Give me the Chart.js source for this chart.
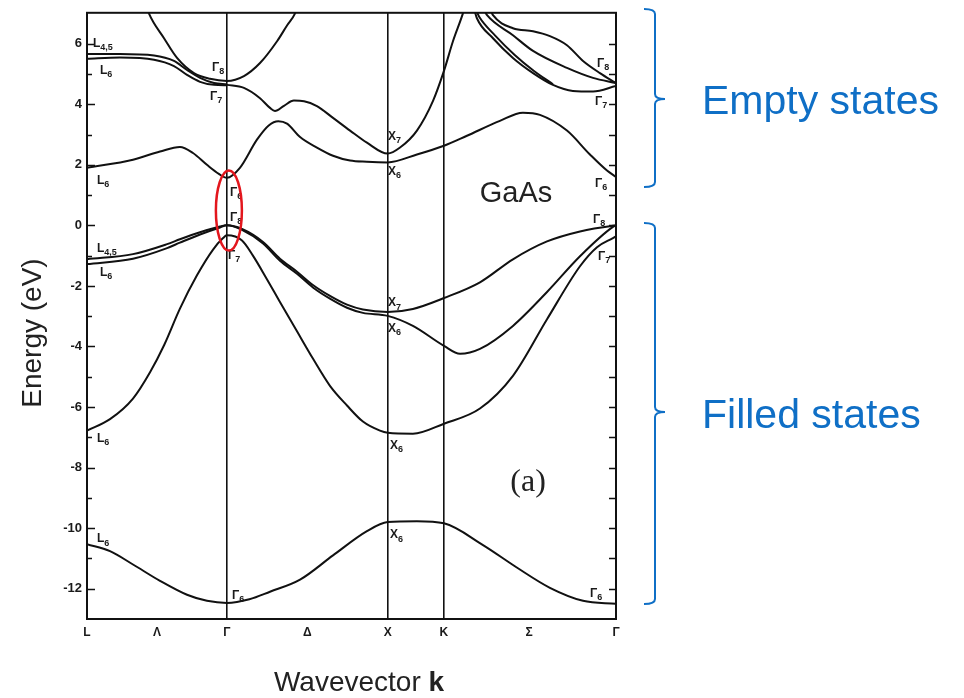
<!DOCTYPE html>
<html>
<head>
<meta charset="utf-8">
<script src="https://cdn.jsdelivr.net/npm/chart.js@4.4.1/dist/chart.umd.min.js"></script>
<style>
  html, body { margin: 0; padding: 0; background: #fff; }
</style>
</head>
<body>
<canvas id="bandChart" width="964" height="698"></canvas>
<script>
/* GaAs band structure along L - Γ - X - K - Γ */

const COLORS = {
  ink: '#111111',
  label: '#1a1a1a',
  blue: '#0f6fc6',
  red: '#e3161d',
};

// path positions (k) and names of the symmetry points / lines
const symK = [0, 0.435, 0.87, 1.37, 1.87, 2.22, 2.75, 3.29];
const symLabels = ['L', 'Λ', 'Γ', 'Δ', 'X', 'K', 'Σ', 'Γ'];
const boundaryIdx = [2, 4, 5];            // Γ, X, K get a full-height line
const energyTicks = [-12, -11, -10, -9, -8, -7, -6, -5, -4, -3, -2, -1, 0, 1, 2, 3, 4, 5, 6];

// bands, [k, energy in eV]
const bandS = [[0, -10.53], [0.143, -10.76], [0.286, -11.2], [0.454, -11.74], [0.622, -12.2], [0.746, -12.4],
  [0.87, -12.47], [1.01, -12.35], [1.138, -12.1], [1.325, -11.7], [1.53, -10.9], [1.741, -10.1], [1.87, -9.8],
  [2.052, -9.77], [2.22, -9.84], [2.463, -10.56], [2.673, -11.3], [2.879, -11.97], [3.085, -12.4], [3.29, -12.5]];

const bandSplitOff = [[0, -6.78], [0.143, -6.4], [0.286, -5.72], [0.392, -4.85], [0.48, -3.95], [0.578, -2.75],
  [0.684, -1.65], [0.784, -0.8], [0.846, -0.42], [0.87, -0.33], [0.964, -0.5], [1.032, -1.0],
  [1.119, -1.78], [1.2, -2.53], [1.306, -3.5], [1.405, -4.4], [1.511, -5.3], [1.617, -5.95], [1.716, -6.48],
  [1.822, -6.78], [1.87, -6.85], [2.027, -6.88], [2.22, -6.55], [2.444, -6.05], [2.649, -4.97], [2.861, -3.1],
  [3.066, -1.35], [3.172, -0.72], [3.271, -0.42], [3.29, -0.36]];

const valenceA = [[0, -1.12], [0.286, -0.95], [0.498, -0.62], [0.578, -0.46], [0.703, -0.23], [0.827, -0.04],
  [0.87, 0], [0.964, -0.12], [1.095, -0.55], [1.2, -1.1], [1.306, -1.53], [1.405, -1.97], [1.511, -2.33],
  [1.617, -2.62], [1.716, -2.78], [1.87, -2.86], [2.027, -2.76], [2.22, -2.4], [2.444, -1.88], [2.649, -1.12],
  [2.861, -0.53], [3.066, -0.2], [3.271, -0.01], [3.29, 0]];

const valenceB = [[0, -1.28], [0.286, -1.1], [0.498, -0.75], [0.578, -0.57], [0.703, -0.3], [0.827, -0.07],
  [0.87, 0], [0.964, -0.15], [1.095, -0.6], [1.2, -1.17], [1.306, -1.6], [1.405, -2.05], [1.511, -2.42],
  [1.617, -2.72], [1.716, -2.89], [1.87, -2.99], [2.027, -3.32], [2.22, -3.98], [2.32, -4.24], [2.444, -4.08],
  [2.649, -3.32], [2.861, -2.2], [3.066, -1.02], [3.271, -0.05], [3.29, 0]];

const condLow = [[0, 1.9], [0.286, 2.17], [0.454, 2.44], [0.578, 2.59], [0.659, 2.39], [0.746, 2.0], [0.82, 1.7],
  [0.87, 1.57], [0.951, 1.9], [1.057, 2.83], [1.13, 3.3], [1.19, 3.44], [1.244, 3.36], [1.325, 2.92], [1.43, 2.57],
  [1.53, 2.3], [1.636, 2.14], [1.741, 2.1], [1.87, 2.08], [2.052, 2.34], [2.22, 2.63], [2.363, 2.96], [2.568, 3.45],
  [2.711, 3.72], [2.817, 3.65], [2.985, 3.13], [3.128, 2.34], [3.234, 1.81], [3.29, 1.6]];

const condDip = [[0.87, 4.64], [0.976, 4.54], [1.076, 4.2], [1.138, 3.88], [1.169, 3.78], [1.225, 3.95],
  [1.287, 4.12], [1.35, 4.1], [1.43, 3.94], [1.53, 3.55], [1.636, 3.13], [1.741, 2.73], [1.87, 2.37], [1.947, 2.57],
  [2.052, 3.13], [2.152, 4.11], [2.22, 5.1], [2.276, 6.08], [2.338, 7.0], [2.36, 7.4]];

const condCup = [[0.36, 7.4], [0.385, 7.0], [0.479, 6.18], [0.56, 5.53], [0.665, 5.03], [0.765, 4.84], [0.87, 4.77],
  [0.976, 4.93], [1.076, 5.36], [1.182, 6.08], [1.244, 6.6], [1.294, 7.0], [1.32, 7.4]];

const condL45 = [[0, 5.66], [0.205, 5.66], [0.417, 5.61], [0.541, 5.43], [0.622, 5.13], [0.703, 4.87], [0.79, 4.7], [0.87, 4.66]];
const condL6 = [[0, 5.5], [0.205, 5.54], [0.417, 5.47], [0.541, 5.26], [0.622, 4.97], [0.703, 4.74], [0.79, 4.64], [0.87, 4.63]];

const sigmaPairA = [[2.41, 7.1], [2.425, 6.84], [2.525, 6.18], [2.649, 5.53], [2.774, 5.03], [2.898, 4.64],
  [3.022, 4.44], [3.147, 4.42], [3.29, 4.6]];
const sigmaPairB = [[2.42, 7.1], [2.44, 6.88], [2.54, 6.26], [2.66, 5.63], [2.78, 5.1], [2.898, 4.66]];
const sigmaMid = [[2.47, 7.1], [2.488, 6.94], [2.649, 6.28], [2.774, 5.76], [2.985, 5.2], [3.147, 4.87], [3.29, 4.7]];
const sigmaWiggle = [[2.51, 7.1], [2.525, 6.94], [2.649, 6.51], [2.774, 6.41], [2.879, 6.25], [2.985, 5.95],
  [3.085, 5.43], [3.19, 5.03], [3.29, 4.7]];

const allBands = [bandS, bandSplitOff, valenceA, valenceB, condLow, condDip, condCup, condL45, condL6,
  sigmaPairA, sigmaPairB, sigmaMid, sigmaWiggle];

// level tags: [letter, subscript, k, energy]
const levelTags = [
  ['L', '4,5', 0.037, 6.0], ['L', '6', 0.081, 5.1], ['Γ', '8', 0.777, 5.2], ['Γ', '7', 0.765, 4.25],
  ['L', '6', 0.062, 1.48], ['Γ', '6', 0.889, 1.08], ['Γ', '8', 0.889, 0.26], ['Γ', '7', 0.877, -0.99],
  ['L', '4,5', 0.062, -0.76], ['L', '6', 0.081, -1.55], ['L', '6', 0.062, -7.04], ['L', '6', 0.062, -10.36],
  ['Γ', '6', 0.902, -12.24], ['X', '7', 1.872, 2.93], ['X', '6', 1.872, 1.78], ['Γ', '8', 3.172, 5.33],
  ['Γ', '7', 3.16, 4.1], ['Γ', '6', 3.16, 1.38], ['Γ', '8', 3.147, 0.2], ['Γ', '7', 3.178, -1.02],
  ['X', '7', 1.872, -2.57], ['X', '6', 1.872, -3.42], ['X', '6', 1.884, -7.27], ['X', '6', 1.884, -10.23],
  ['Γ', '6', 3.128, -12.17],
];

const bandDecor = {
  id: 'bandDecor',
  afterDatasetsDraw(chart) {
    const { ctx, chartArea: a, scales: { x, y } } = chart;
    ctx.save();
    ctx.strokeStyle = COLORS.ink;

    // inward tick marks on both sides
    ctx.lineWidth = 1.5;
    energyTicks.forEach(v => {
      const py = Math.round(y.getPixelForValue(v)) + 0.5;
      const len = v % 2 === 0 ? 8 : 5;
      ctx.beginPath();
      ctx.moveTo(a.left, py);
      ctx.lineTo(a.left + len, py);
      ctx.moveTo(a.right, py);
      ctx.lineTo(a.right - 7, py);
      ctx.stroke();
    });

    ctx.lineWidth = 2;
    ctx.strokeRect(a.left, a.top, a.right - a.left, a.bottom - a.top);

    // level names
    ctx.fillStyle = COLORS.label;
    ctx.textBaseline = 'middle';
    ctx.textAlign = 'left';
    levelTags.forEach(([main, sub, k, e]) => {
      const px = x.getPixelForValue(k);
      const py = y.getPixelForValue(e);
      ctx.font = 'bold 12px "Liberation Sans", Arial, sans-serif';
      ctx.fillText(main, px, py);
      const w = ctx.measureText(main).width;
      ctx.font = 'bold 9px "Liberation Sans", Arial, sans-serif';
      ctx.fillText(sub, px + w, py + 4);
    });

    ctx.fillStyle = '#222';
    ctx.textAlign = 'center';
    ctx.font = '29px "Liberation Sans", Arial, sans-serif';
    ctx.fillText('GaAs', x.getPixelForValue(2.668), y.getPixelForValue(1.02));
    ctx.font = '32px "Liberation Serif", "Times New Roman", serif';
    ctx.fillText('(a)', x.getPixelForValue(2.743), y.getPixelForValue(-8.49));

    // red mark round the gap
    ctx.strokeStyle = COLORS.red;
    ctx.lineWidth = 2.5;
    ctx.beginPath();
    ctx.ellipse(x.getPixelForValue(symK[2]) + 2, y.getPixelForValue(0.49), 13, 40, 0, 0, Math.PI * 2);
    ctx.stroke();
    ctx.restore();
  },
  afterDraw(chart) {
    const { ctx } = chart;
    ctx.save();
    ctx.fillStyle = '#222';
    ctx.textBaseline = 'middle';

    ctx.font = '28px "Liberation Sans", Arial, sans-serif';
    ctx.save();
    ctx.translate(33, 333);
    ctx.rotate(-Math.PI / 2);
    ctx.textAlign = 'center';
    ctx.fillText('Energy (eV)', 0, 0);
    ctx.restore();

    ctx.textAlign = 'left';
    const part1 = 'Wavevector ';
    ctx.font = '28px "Liberation Sans", Arial, sans-serif';
    const w1 = ctx.measureText(part1).width;
    ctx.font = 'bold 28px "Liberation Sans", Arial, sans-serif';
    const w2 = ctx.measureText('k').width;
    const sx = 359 - (w1 + w2) / 2;
    ctx.font = '28px "Liberation Sans", Arial, sans-serif';
    ctx.fillText(part1, sx, 683);
    ctx.font = 'bold 28px "Liberation Sans", Arial, sans-serif';
    ctx.fillText('k', sx + w1, 683);

    // braces and state names
    ctx.strokeStyle = COLORS.blue;
    ctx.lineWidth = 2;
    const brace = (xv, top, tip, bottom) => {
      ctx.beginPath();
      ctx.moveTo(xv - 11, top);
      ctx.quadraticCurveTo(xv, top, xv, top + 5);
      ctx.lineTo(xv, tip - 5);
      ctx.quadraticCurveTo(xv, tip, xv + 10, tip);
      ctx.quadraticCurveTo(xv, tip, xv, tip + 5);
      ctx.lineTo(xv, bottom - 5);
      ctx.quadraticCurveTo(xv, bottom, xv - 11, bottom);
      ctx.stroke();
    };
    brace(655, 9, 99, 187);
    brace(655, 223, 412, 604);

    ctx.fillStyle = COLORS.blue;
    ctx.textBaseline = 'alphabetic';
    ctx.font = '41px "Liberation Sans", Arial, sans-serif';
    ctx.fillText('Empty states', 702, 114);
    ctx.fillText('Filled states', 702, 428);
    ctx.restore();
  },
};

new Chart(document.getElementById('bandChart'), {
  type: 'line',
  data: {
    datasets: allBands.map(b => ({
      data: b.map(([k, e]) => ({ x: k, y: e })),
      borderColor: COLORS.ink,
      borderWidth: 2,
      pointRadius: 0,
      fill: false,
      cubicInterpolationMode: 'monotone',
    })),
  },
  options: {
    responsive: false,
    animation: false,
    layout: { padding: { left: 0, top: 12, right: 348, bottom: 0 } },
    plugins: { legend: { display: false }, tooltip: { enabled: false } },
    scales: {
      x: {
        type: 'linear',
        min: 0,
        max: 3.29,
        afterBuildTicks: s => { s.ticks = symK.map(v => ({ value: v })); },
        afterFit: s => { s.height = 79; },
        border: { display: false },
        grid: {
          drawTicks: false,
          lineWidth: 1.6,
          color: c => (boundaryIdx.includes(c.index) ? COLORS.ink : 'rgba(0,0,0,0)'),
        },
        ticks: {
          autoSkip: false,
          maxRotation: 0,
          padding: 6,
          color: COLORS.label,
          font: { family: 'Liberation Sans', size: 12, weight: 'bold' },
          callback: (v, i) => symLabels[i],
        },
      },
      y: {
        min: -13,
        max: 7.02,
        afterBuildTicks: s => { s.ticks = energyTicks.map(v => ({ value: v })); },
        afterFit: s => { s.width = 87; },
        border: { display: false },
        grid: { display: false, drawTicks: false },
        ticks: {
          padding: 5,
          color: COLORS.label,
          font: { family: 'Liberation Sans', size: 13, weight: 'bold' },
          callback: v => (v % 2 === 0 ? String(v) : ''),
        },
      },
    },
  },
  plugins: [bandDecor],
});
</script>
</body>
</html>
